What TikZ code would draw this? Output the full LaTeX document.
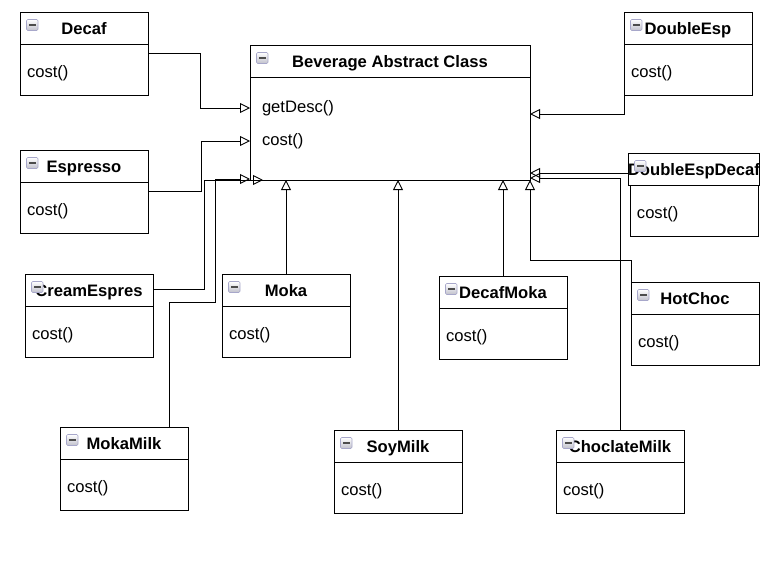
\documentclass[tikz,border=0pt]{standalone}
\usepackage{fontspec}
\setmainfont{Liberation Sans}
\usetikzlibrary{arrows.meta, positioning}

\begin{document}
\begin{tikzpicture}[x=1pt, y=-1pt,
  every node/.style={outer sep=0pt, font=\fontsize{16.6}{19}\selectfont},
  classhead/.style={draw, line width=0.9pt, anchor=north west, minimum width=128pt, minimum height=32pt, inner sep=0pt, text height=13.5pt, text depth=0pt, font=\fontsize{16.6}{19}\selectfont\bfseries},
  classbody/.style={draw, line width=0.9pt, below=0pt of #1, minimum height=51pt, text width=114pt, inner xsep=7pt, text height=18pt, text depth=3pt, align=left},
  inherit/.style={-{Triangle[open, length=10pt, width=10pt]}, line width=0.9pt},
  icon/.style={draw=blue!25!gray!55, top color=white, bottom color=blue!10!gray!45, rounded corners=1.2pt, line width=0.6pt}]
\useasboundingbox (0,0) rectangle (783,584);

% Base nodes
\node (Bev) [classhead, minimum width=280pt] at (250,45) {Beverage Abstract Class};
\node (BevOps) [classbody=Bev, minimum height=103pt, text width=266pt] {};
\node (GetDesc) [anchor=west, inner xsep=12pt] at (250,108) {getDesc()};
\node (BevCost) [anchor=west, inner xsep=12pt] at (250,141) {cost()};

\node (Decaf) [classhead] at (20,12) {Decaf};
\node (DecafOps) [classbody=Decaf] {cost()};
\node (Espresso) [classhead] at (20,150) {Espresso};
\node (EspressoOps) [classbody=Espresso] {cost()};
\node (CreamEsp) [classhead] at (25,274) {CreamEspres};
\node (CreamEspOps) [classbody=CreamEsp] {cost()};
\node (Moka) [classhead] at (222,274) {Moka};
\node (MokaOps) [classbody=Moka] {cost()};
\node (MokaMilk) [classhead] at (60,427) {MokaMilk};
\node (MokaMilkOps) [classbody=MokaMilk] {cost()};
\node (SoyMilk) [classhead] at (334,430) {SoyMilk};
\node (SoyMilkOps) [classbody=SoyMilk] {cost()};
\node (DecafMoka) [classhead] at (439,276) {DecafMoka};
\node (DecafMokaOps) [classbody=DecafMoka] {cost()};
\node (HotChoc) [classhead] at (631,282) {HotChoc};
\node (HotChocOps) [classbody=HotChoc] {cost()};
\node (ChocMilk) [classhead] at (556,430) {ChoclateMilk};
\node (ChocMilkOps) [classbody=ChocMilk] {cost()};
\node (DoubleEsp) [classhead] at (624,12) {DoubleEsp};
\node (DoubleEspOps) [classbody=DoubleEsp] {cost()};
\node (DoubleEspDecaf) [classhead] at (628,153) {DoubleEspDecaf};
\node (DoubleEspDecafOps) [classbody=DoubleEspDecaf] {cost()};

% Collapse icons
\foreach \c in {Bev, Decaf, Espresso, CreamEsp, Moka, MokaMilk, SoyMilk, DecafMoka, HotChoc, ChocMilk, DoubleEsp, DoubleEspDecaf} {
  \draw[icon] ([shift={(6.5pt,-7.5pt)}]\c.north west) rectangle ++(11.5pt,-11pt);
  \draw[black!70, line width=1.2pt] ([shift={(9pt,-13pt)}]\c.north west) -- ++(6.5pt,0pt);
}

% Arrows
\coordinate (DecafBend) at (200,53);
\draw[inherit] (DecafOps.east |- DecafBend) -- (DecafBend) |- (GetDesc.west);
\coordinate (EspBend) at (201,191);
\draw[inherit] (EspressoOps.east |- EspBend) -- (EspBend) |- (BevCost.west);
\coordinate (CreamBend) at (204,289);
\draw[inherit] (CreamEsp.east |- CreamBend) -- (CreamBend) |- ([xshift=13pt]BevOps.south west);
\coordinate (MilkBend) at (215,302);
\draw[inherit] ([xshift=45pt]MokaMilk.north) |- (MilkBend) |- ([yshift=1pt]BevOps.south west);
\draw[inherit] (Moka.north) -- (Moka.north |- BevOps.south);
\draw[inherit] (SoyMilk.north) -- (SoyMilk.north |- BevOps.south);
\draw[inherit] (DecafMoka.north) -- (DecafMoka.north |- BevOps.south);
\coordinate (ChocBend) at (530,260);
\draw[inherit] (HotChoc.north west) |- (ChocBend) -- (BevOps.south east);
\coordinate (MilkTurn) at (619,178);
\draw[inherit] (ChocMilk.north) |- (BevOps.east |- MilkTurn);
\coordinate (DecafIn) at (628,173);
\draw[inherit] (DoubleEspDecaf.west |- DecafIn) -- (BevOps.east |- DecafIn);
\coordinate (EspIn) at (624,114);
\draw[inherit] (DoubleEspOps.south west) |- (BevOps.east |- EspIn);
\end{tikzpicture}
\end{document}
